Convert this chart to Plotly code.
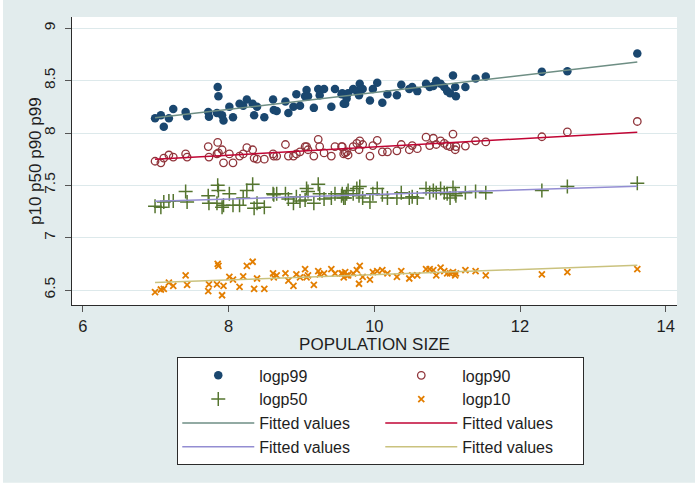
import numpy as np
import plotly.graph_objects as go

# Log population size of each city (shared x for all four percentile series)
pop_size = [6.99, 7.07, 7.11, 7.18, 7.24, 7.41, 7.43, 7.72, 7.73, 7.84,
            7.85, 7.86, 7.91, 7.93, 8.01, 8.06, 8.15, 8.20, 8.25, 8.33,
            8.35, 8.39, 8.49, 8.61, 8.62, 8.66, 8.78, 8.82, 8.89, 8.93,
            8.98, 9.05, 9.07, 9.09, 9.17, 9.23, 9.25, 9.31, 9.41, 9.46,
            9.55, 9.56, 9.58, 9.60, 9.62, 9.64, 9.71, 9.76, 9.79, 9.80,
            9.84, 9.94, 9.98, 10.04, 10.11, 10.18, 10.31, 10.37, 10.48, 10.52,
            10.59, 10.71, 10.76, 10.81, 10.85, 10.91, 10.96, 11.00, 11.04, 11.08,
            11.11, 11.12, 11.25, 11.39, 11.53, 12.30, 12.65, 13.61]

logp99 = [8.14, 8.17, 8.06, 8.14, 8.23, 8.20, 8.16, 8.20, 8.155, 8.19,
          8.44, 8.35, 8.17, 8.12, 8.25, 8.15, 8.28, 8.26, 8.32, 8.28,
          8.17, 8.25, 8.15, 8.32, 8.22, 8.21, 8.30, 8.19, 8.25, 8.37,
          8.26, 8.35, 8.41, 8.35, 8.24, 8.42, 8.36, 8.42, 8.25, 8.42,
          8.37, 8.38, 8.28, 8.28, 8.33, 8.38, 8.42, 8.40, 8.36, 8.47,
          8.42, 8.31, 8.42, 8.48, 8.29, 8.37, 8.36, 8.46, 8.42, 8.44,
          8.40, 8.47, 8.44, 8.45, 8.50, 8.47, 8.44, 8.40, 8.38, 8.55,
          8.44, 8.35, 8.44, 8.52, 8.54, 8.585, 8.59, 8.76]

logp90 = [7.73, 7.715, 7.76, 7.79, 7.77, 7.80, 7.77, 7.87, 7.77, 7.80,
          7.91, 7.81, 7.84, 7.715, 7.80, 7.715, 7.78, 7.80, 7.86, 7.84,
          7.76, 7.75, 7.75, 7.80, 7.78, 7.78, 7.89, 7.78, 7.78, 7.80,
          7.82, 7.87, 7.87, 7.84, 7.78, 7.94, 7.87, 7.81, 7.78, 7.87,
          7.87, 7.87, 7.80, 7.81, 7.82, 7.79, 7.87, 7.90, 7.84, 7.925,
          7.89, 7.78, 7.88, 7.93, 7.82, 7.82, 7.83, 7.89, 7.84, 7.88,
          7.85, 7.96, 7.88, 7.95, 7.89, 7.925, 7.90, 7.88, 7.87, 7.99,
          7.84, 7.87, 7.875, 7.925, 7.915, 7.964, 8.01, 8.11]

logp50 = [7.30, 7.29, 7.34, 7.35, 7.35, 7.44, 7.34, 7.40, 7.33, 7.33,
          7.50, 7.45, 7.29, 7.31, 7.42, 7.31, 7.31, 7.38, 7.45, 7.51,
          7.28, 7.33, 7.29, 7.42, 7.41, 7.42, 7.42, 7.37, 7.33, 7.39,
          7.35, 7.36, 7.47, 7.44, 7.33, 7.51, 7.42, 7.37, 7.38, 7.42,
          7.40, 7.42, 7.38, 7.38, 7.42, 7.45, 7.42, 7.47, 7.40, 7.49,
          7.38, 7.34, 7.42, 7.47, 7.41, 7.38, 7.38, 7.43, 7.38, 7.39,
          7.38, 7.47, 7.43, 7.45, 7.43, 7.47, 7.43, 7.42, 7.38, 7.48,
          7.42, 7.40, 7.43, 7.44, 7.43, 7.45, 7.49, 7.52]

logp10 = [6.48, 6.505, 6.51, 6.57, 6.54, 6.64, 6.55, 6.49, 6.555, 6.555,
          6.75, 6.73, 6.45, 6.54, 6.625, 6.60, 6.53, 6.63, 6.73, 6.77,
          6.51, 6.61, 6.51, 6.66, 6.62, 6.64, 6.66, 6.59, 6.54, 6.65,
          6.62, 6.70, 6.62, 6.64, 6.55, 6.68, 6.65, 6.66, 6.70, 6.66,
          6.66, 6.66, 6.62, 6.67, 6.64, 6.64, 6.66, 6.69, 6.56, 6.73,
          6.625, 6.60, 6.67, 6.68, 6.69, 6.66, 6.625, 6.68, 6.61, 6.64,
          6.64, 6.70, 6.70, 6.69, 6.64, 6.715, 6.68, 6.66, 6.66, 6.67,
          6.64, 6.66, 6.69, 6.68, 6.64, 6.65, 6.67, 6.70]

x_ticks = [6, 8, 10, 12, 14]
y_ticks = [6.5, 7, 7.5, 8, 8.5, 9]
y_tick_text = ["6.5", "7", "7.5", "8", "8.5", "9"]

# s2color-like palette
NAVY, MAROON, FOREST, DKORANGE = "#1a476f", "#90353b", "#55752f", "#e37e00"
TEAL, CRANBERRY, LAVENDER, KHAKI = "#6e8e84", "#c10534", "#938dd2", "#cac27e"
REGION_BG = "#e2eced"
GRID = "#dde9eb"
FONT = "Liberation Sans, Arial, sans-serif"
TEXT = "#1e1e1e"

x = np.array(pop_size)


def fitted(y):
    slope, intercept = np.polyfit(x, np.array(y), 1)
    xs = np.array([x.min(), x.max()])
    return xs, intercept + slope * xs


fig = go.Figure()

fig.add_trace(go.Scatter(x=pop_size, y=logp99, mode="markers", name="logp99",
                         legendgroup="a",
                         marker=dict(symbol="circle", size=8.5, color=NAVY,
                                     line=dict(width=0))))
fig.add_trace(go.Scatter(x=pop_size, y=logp90, mode="markers", name="logp90",
                         legendgroup="b",
                         marker=dict(symbol="circle-open", size=7.5, color=MAROON,
                                     line=dict(width=1.3, color=MAROON))))
fig.add_trace(go.Scatter(x=pop_size, y=logp50, mode="markers", name="logp50",
                         legendgroup="a",
                         marker=dict(symbol="cross-thin", size=10, color=FOREST,
                                     line=dict(width=1.5, color=FOREST))))
fig.add_trace(go.Scatter(x=pop_size, y=logp10, mode="markers", name="logp10",
                         legendgroup="b",
                         marker=dict(symbol="x-thin", size=6, color=DKORANGE,
                                     line=dict(width=1.8, color=DKORANGE))))

for series, color, group in [(logp99, TEAL, "a"), (logp90, CRANBERRY, "b"),
                             (logp50, LAVENDER, "a"), (logp10, KHAKI, "b")]:
    fx, fy = fitted(series)
    fig.add_trace(go.Scatter(x=fx, y=fy, mode="lines", name="Fitted values",
                             legendgroup=group,
                             line=dict(color=color, width=1.5)))

axis_common = dict(
    showline=True, linecolor="#2b2b2b", linewidth=1,
    ticks="outside", ticklen=6, tickwidth=1, tickcolor="#555555",
    zeroline=False, color=TEXT,
)

fig.update_layout(
    width=696, height=484,
    margin=dict(l=72, r=19, t=17, b=179, pad=0),
    paper_bgcolor=REGION_BG,
    plot_bgcolor="white",
    font=dict(family=FONT, color=TEXT, size=16),
    xaxis=dict(range=[5.85, 14.155], tickmode="array", tickvals=x_ticks,
               showgrid=False,
               tickfont=dict(size=16.5),
               title=dict(text="POPULATION SIZE", font=dict(size=17), standoff=0),
               **axis_common),
    yaxis=dict(range=[6.357, 9.108], tickmode="array", tickvals=y_ticks,
               ticktext=y_tick_text, tickangle=-90, ticklabelstandoff=4,
               showgrid=True, gridcolor=GRID, gridwidth=1.2,
               tickfont=dict(size=15.5),
               **axis_common),
    annotations=[
        # y-axis title, placed beside the rotated tick labels
        dict(text="p10 p50 p90 p99", textangle=-90, showarrow=False,
             xref="paper", yref="paper", x=-37 / 605, y=0.5,
             xanchor="center", yanchor="middle",
             font=dict(family=FONT, size=17, color=TEXT)),
    ],
    showlegend=True,
    legend=dict(
        orientation="h", traceorder="grouped", tracegroupgap=0,
        x=0.174, y=-0.182, xanchor="left", yanchor="top",
        bgcolor="white", bordercolor="#2b2b2b", borderwidth=1,
        font=dict(family=FONT, size=16, color=TEXT),
        itemwidth=72, entrywidth=116, entrywidthmode="pixels",
    ),
    shapes=[
        # thin white frame strips around the graph region
        dict(type="rect", xref="paper", yref="paper", layer="below",
             x0=-72 / 605, x1=-69 / 605, y0=-0.63, y1=1.07,
             fillcolor="white", line=dict(width=0)),
        dict(type="rect", xref="paper", yref="paper", layer="below",
             x0=623 / 605, x1=625 / 605, y0=-0.63, y1=1.07,
             fillcolor="white", line=dict(width=0)),
        dict(type="rect", xref="paper", yref="paper", layer="below",
             x0=-0.2, x1=1.1, y0=-179 / 288, y1=-177.7 / 288,
             fillcolor="white", line=dict(width=0)),
    ],
)

fig.write_html("out.html")
